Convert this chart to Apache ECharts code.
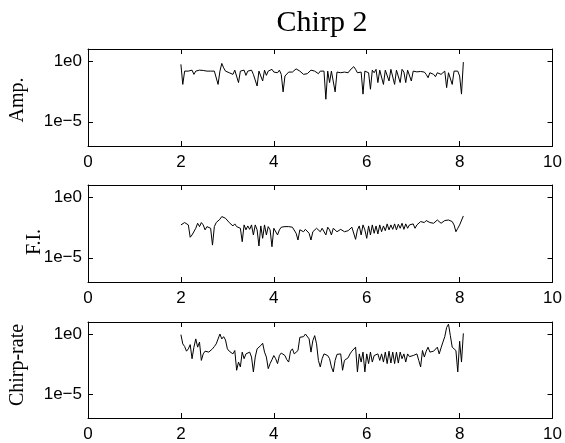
<!DOCTYPE html>
<html>
<head>
<meta charset="utf-8">
<script src="https://cdn.jsdelivr.net/npm/echarts@6/dist/echarts.min.js"></script>
<style>
html,body{margin:0;padding:0;background:#fff;}
#chart{width:565px;height:443px;}
</style>
</head>
<body>
<div id="chart"></div>
<script>
// ---- data ----
const titleText = 'Chirp 2';
const panelNames = ['Amp.', 'F.I.', 'Chirp-rate'];
const xTicks = [0, 2, 4, 6, 8, 10];
const yTickValues = [1e-5, 1];
const yTickLabels = ['1e\u22125', '1e0'];
const xStart = 2.0, xStep = 0.04;   // sample positions along x

const ampValues = [0.54,0.012,0.15,0.18,0.15,0.11,0.18,0.081,0.15,0.11,
 0.18,0.15,0.17,0.15,0.15,0.18,0.15,0.125,0.15,0.11,
 0.012,0.15,0.65,0.28,0.15,0.18,0.11,0.15,0.081,0.18,
 0.125,0.017,0.15,0.11,0.18,0.067,0.15,0.11,0.18,0.081,
 0.11,0.0089,0.15,0.11,0.023,0.18,0.067,0.15,0.11,0.21,
 0.125,0.15,0.11,0.18,0.081,0.0029,0.059,0.081,0.125,0.15,
 0.125,0.18,0.23,0.21,0.15,0.11,0.081,0.067,0.092,0.125,
 0.18,0.21,0.15,0.11,0.092,0.15,0.18,0.15,0.00072,0.15,
 0.017,0.15,0.11,0.0029,0.125,0.15,0.11,0.15,0.125,0.15,
 0.11,0.18,0.23,0.35,0.21,0.11,0.15,0.125,0.0019,0.15,
 0.21,0.11,0.0048,0.18,0.11,0.21,0.017,0.18,0.15,0.012,
 0.18,0.125,0.023,0.21,0.15,0.012,0.18,0.15,0.017,0.21,
 0.125,0.017,0.18,0.15,0.023,0.15,0.15,0.13,0.15,0.14,
 0.15,0.125,0.081,0.043,0.11,0.125,0.081,0.052,0.11,0.125,
 0.081,0.11,0.15,0.0065,0.11,0.15,0.012,0.15,0.11,0.15,
 0.059,0.0019,0.83];

const fiValues = [0.0051,0.0070,0.0080,0.0070,0.0051,0.00049,0.00076,0.00104,0.0027,0.0070,
 0.0037,0.0080,0.0051,0.0020,0.0037,0.0042,0.0027,0.00011,0.0037,0.0080,
 0.0096,0.015,0.025,0.034,0.018,0.022,0.0080,0.0096,0.0042,0.0062,
 0.0037,0.0051,0.0027,0.00021,0.0051,0.0020,0.0042,0.0022,0.0051,0.00076,
 0.0051,0.0020,0.000093,0.0042,0.00040,0.0051,0.00076,0.0037,0.0020,0.000081,
 0.0027,0.0020,0.00076,0.0020,0.0033,0.0037,0.0037,0.0037,0.0037,0.0037,
 0.0033,0.0027,0.00104,0.00029,0.0020,0.0027,0.0014,0.0022,0.0020,0.00104,
 0.00029,0.0014,0.0020,0.0027,0.0022,0.0014,0.0027,0.0020,0.00076,0.0033,
 0.0020,0.00076,0.0027,0.0022,0.0014,0.0020,0.0022,0.0020,0.0014,0.0014,
 0.0017,0.0022,0.0033,0.0037,0.00033,0.0020,0.0042,0.00076,0.0051,0.0020,
 0.00040,0.0042,0.00076,0.0051,0.00104,0.0042,0.00092,0.0051,0.0014,0.0042,
 0.0017,0.0062,0.0020,0.0051,0.0022,0.0062,0.0020,0.0058,0.0027,0.0070,
 0.0022,0.0062,0.0027,0.0051,0.0037,0.0062,0.0027,0.0051,0.0037,0.0096,
 0.0070,0.0080,0.0117,0.013,0.0080,0.0096,0.0070,0.0096,0.013,0.0096,
 0.0070,0.0096,0.0117,0.015,0.013,0.015,0.0096,0.0051,0.0014,0.0027,
 0.0051,0.0070,0.028];

const chirpValues = [0.88,0.15,0.091,0.037,0.058,0.13,0.0087,0.080,0.39,0.080,
 0.21,0.0063,0.022,0.037,0.037,0.031,0.042,0.058,0.091,0.15,
 0.17,1.0,0.39,0.60,0.32,0.058,0.037,0.031,0.022,0.042,
 0.00095,0.0046,0.0018,0.031,0.0087,0.022,0.016,0.031,0.012,0.00069,
 0.012,0.058,0.042,0.11,0.17,0.031,0.012,0.0013,0.0034,0.0072,
 0.016,0.0087,0.0034,0.016,0.026,0.031,0.016,0.0072,0.0046,0.037,
 0.058,0.022,0.031,0.042,0.53,0.47,0.60,1.0,1.0,0.39,
 0.031,0.28,0.73,0.15,0.0063,0.0018,0.0087,0.022,0.031,0.016,
 0.0087,0.0018,0.00069,0.0063,0.020,0.022,0.022,0.00095,0.0063,0.0072,
 0.0105,0.022,0.037,0.048,0.080,0.00069,0.022,0.0046,0.031,0.00069,
 0.022,0.0034,0.031,0.0046,0.016,0.012,0.022,0.0063,0.022,0.0046,
 0.031,0.0034,0.037,0.0038,0.031,0.0034,0.031,0.0038,0.031,0.0087,
 0.022,0.0046,0.022,0.013,0.012,0.016,0.012,0.022,0.0063,0.0018,
 0.042,0.012,0.037,0.080,0.031,0.031,0.037,0.048,0.080,0.022,
 0.070,0.21,0.60,3.5,6.6,0.73,0.080,0.11,0.042,0.00069,
 0.25,0.0046,1.13];

// ---- chart ----
const seriesValues = [ampValues, fiValues, chirpValues];
const gridTops = [49, 185, 322];
const gridH = 97;
const sans = '"Liberation Sans", Arial, Helvetica, sans-serif';
const serif = '"Liberation Serif", "Times New Roman", serif';

const grids = [], xAxes = [], yAxes = [], series = [];
gridTops.forEach((t, k) => {
  grids.push({left: 88, right: 12, top: t, height: gridH});
  const lineStyle = {color: '#000', width: 1};
  xAxes.push({
    type: 'value', gridIndex: k, position: 'bottom', min: 0, max: 10, interval: 2,
    axisLine: {show: true, onZero: false, lineStyle},
    axisTick: {show: true, inside: true, length: 5, lineStyle},
    axisLabel: {show: true, color: '#000', fontFamily: sans, fontSize: 17, margin: 8,
      customValues: xTicks},
    splitLine: {show: false}
  });
  xAxes.push({
    type: 'value', gridIndex: k, position: 'top', min: 0, max: 10, interval: 2,
    axisLine: {show: true, onZero: false, lineStyle},
    axisTick: {show: true, inside: true, length: 5, lineStyle},
    axisLabel: {show: false},
    splitLine: {show: false}
  });
  const fmt = v => (v > 0.1 ? yTickLabels[1] : yTickLabels[0]);
  yAxes.push({
    type: 'log', logBase: 10, gridIndex: k, position: 'left', min: 1e-7, max: 10,
    axisLine: {show: true, onZero: false, lineStyle},
    axisTick: {show: true, inside: true, length: 5, lineStyle, customValues: yTickValues},
    axisLabel: {show: true, color: '#000', fontFamily: sans, fontSize: 17, margin: 6,
      customValues: yTickValues, formatter: fmt},
    splitLine: {show: false}, minorTick: {show: false}
  });
  yAxes.push({
    type: 'log', logBase: 10, gridIndex: k, position: 'right', min: 1e-7, max: 10,
    axisLine: {show: true, onZero: false, lineStyle},
    axisTick: {show: true, inside: true, length: 5, lineStyle, customValues: yTickValues},
    axisLabel: {show: false},
    splitLine: {show: false}
  });
  series.push({
    type: 'line', xAxisIndex: 2 * k, yAxisIndex: 2 * k, showSymbol: false, symbol: 'none',
    animation: false, lineStyle: {color: '#000', width: 1},
    data: seriesValues[k].map((v, i) => [xStart + xStep * i, v])
  });
});

const nameGraphics = [
  {x: 18, y: 100, text: panelNames[0]},
  {x: 35, y: 242, text: panelNames[1]},
  {x: 18, y: 365, text: panelNames[2]}
].map(o => ({
  type: 'text', x: o.x, y: o.y, rotation: Math.PI / 2,
  style: {text: o.text, font: '20px ' + serif, fill: '#000', align: 'center', verticalAlign: 'middle'}
}));

const titleGraphic = {
  type: 'text', x: 322, y: 23,
  style: {text: titleText, font: '30px ' + serif, fill: '#000', align: 'center', verticalAlign: 'middle'}
};

const chart = echarts.init(document.getElementById('chart'), null, {renderer: 'canvas'});
chart.setOption({
  backgroundColor: '#fff',
  animation: false,
  grid: grids, xAxis: xAxes, yAxis: yAxes, series,
  graphic: nameGraphics.concat([titleGraphic])
});
</script>
</body>
</html>
